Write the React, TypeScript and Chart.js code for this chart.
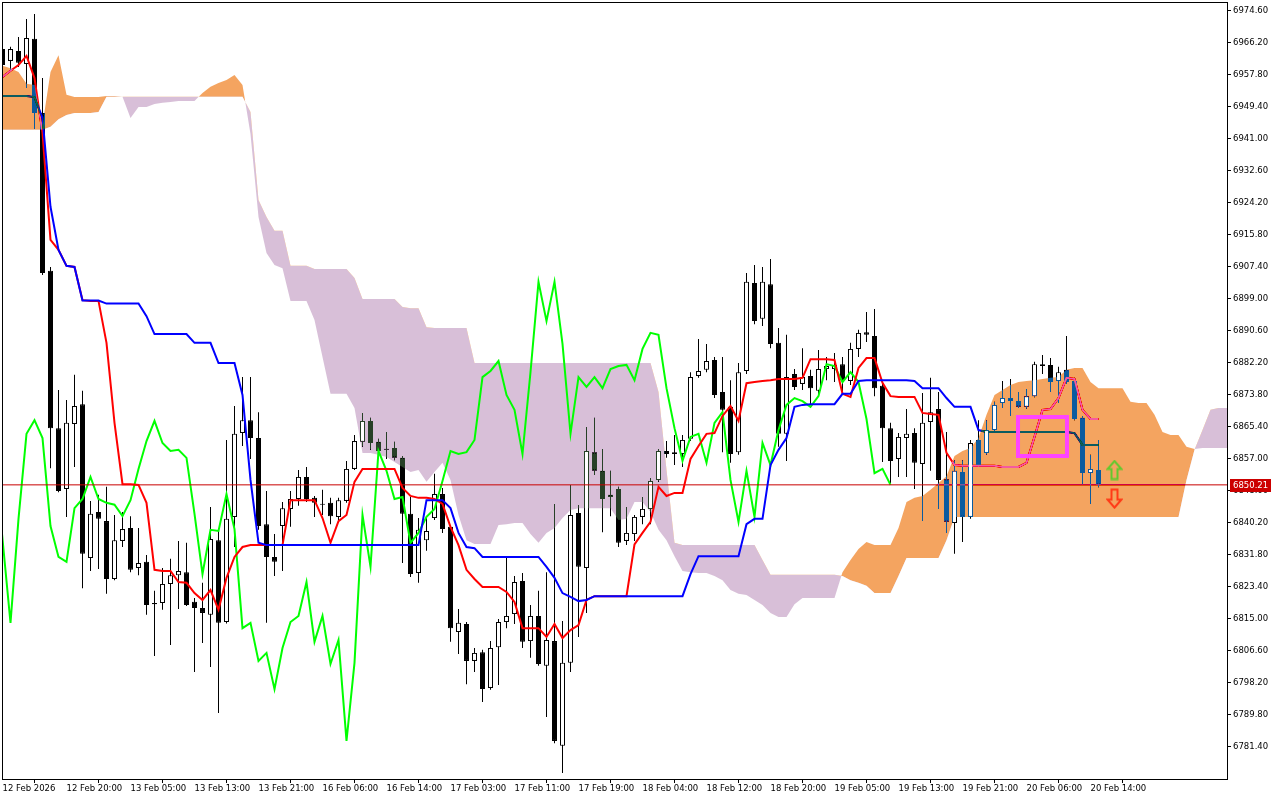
import React, { useEffect, useRef } from 'react';
import { Chart, registerables } from 'chart.js';

// ---- blend plugin (registered before Filler so it wraps the cloud fills) ----
const blendPlugin = {
  id: 'cloudBlend',
  beforeDatasetDraw(chart: any, args: any) {
    const ds = chart.data.datasets[args.index];
    if (ds && ds.blend) {
      chart.ctx.save();
      chart.ctx.globalCompositeOperation = ds.blend;
    }
  },
  afterDatasetDraw(chart: any, args: any) {
    const ds = chart.data.datasets[args.index];
    if (ds && ds.blend) chart.ctx.restore();
  },
};
Chart.register(blendPlugin as any);
Chart.register(...registerables);

// ---------------- data (H1 candles, index = bar number) ----------------
const OPEN = [
  6964.6, 6961.5, 6964.1, 6960.7, 6967.3, 6947.8, 6906.4, 6865.1, 6849.1, 6866.2,
  6871.4, 6831.0, 6843.1, 6840.7, 6825.5, 6835.5, 6838.9, 6828.4, 6830.0, 6819.2,
  6819.2, 6824.2, 6826.5, 6827.3, 6819.5, 6817.9, 6816.1, 6835.7, 6814.2, 6841.8,
  6863.8, 6867.2, 6862.5, 6839.9, 6831.3, 6839.4, 6843.9, 6846.5, 6852.3, 6846.8,
  6845.2, 6845.5, 6841.8, 6846.0, 6854.4, 6861.5, 6867.0, 6861.5, 6859.6, 6859.9,
  6857.3, 6842.6, 6827.1, 6835.7, 6841.5, 6847.8, 6839.2, 6811.6, 6813.7, 6804.0,
  6806.3, 6796.9, 6807.6, 6814.2, 6816.3, 6825.0, 6809.2, 6815.8, 6802.7, 6809.2,
  6781.7, 6803.5, 6842.8, 6828.4, 6858.8, 6853.9, 6847.6, 6849.1, 6835.5, 6837.3,
  6841.8, 6843.9, 6851.5, 6859.1, 6858.3, 6858.3, 6862.3, 6878.8, 6880.4, 6883.0,
  6874.6, 6870.7, 6858.8, 6880.1, 6903.2, 6893.8, 6902.9, 6887.5, 6863.6, 6879.3,
  6876.7, 6878.8, 6874.9, 6880.6, 6880.6, 6881.9, 6877.5, 6885.9, 6890.3, 6889.3,
  6876.2, 6865.1, 6857.0, 6862.5, 6863.8, 6855.7, 6866.7, 6870.1, 6851.7, 6840.2,
  6853.6, 6841.8, 6862.0, 6858.6, 6864.6, 6871.7, 6873.0, 6872.2, 6870.7, 6873.5,
  6881.9, 6881.7, 6877.5, 6880.4, 6877.5, 6867.8, 6853.3, 6854.1,
];
const HIGH = [
  6965.2, 6965.2, 6967.8, 6972.5, 6973.8, 6957.0, 6907.4, 6875.1, 6872.5, 6879.1,
  6874.9, 6846.0, 6847.6, 6849.7, 6842.3, 6843.1, 6842.0, 6838.9, 6831.8, 6822.4,
  6828.4, 6830.8, 6835.5, 6835.0, 6820.5, 6824.5, 6844.4, 6838.9, 6862.0, 6870.9,
  6878.5, 6878.5, 6869.3, 6848.6, 6837.3, 6845.7, 6848.6, 6854.1, 6854.9, 6847.3,
  6848.9, 6846.8, 6846.8, 6856.5, 6863.3, 6869.1, 6867.8, 6862.3, 6864.1, 6861.5,
  6857.8, 6847.0, 6841.5, 6842.0, 6853.1, 6849.4, 6839.7, 6817.6, 6814.2, 6807.4,
  6806.9, 6809.2, 6815.0, 6831.0, 6826.3, 6827.1, 6818.7, 6822.4, 6827.3, 6845.2,
  6814.5, 6850.2, 6844.9, 6865.4, 6867.8, 6859.6, 6853.9, 6849.7, 6844.4, 6842.3,
  6847.0, 6852.0, 6859.6, 6861.7, 6863.3, 6863.3, 6879.8, 6888.5, 6887.2, 6883.8,
  6883.8, 6877.7, 6882.2, 6905.8, 6907.9, 6907.4, 6909.5, 6891.4, 6889.6, 6880.6,
  6886.1, 6880.4, 6885.6, 6883.8, 6884.8, 6883.8, 6887.5, 6890.9, 6895.6, 6896.4,
  6877.2, 6866.5, 6863.8, 6870.1, 6865.1, 6874.3, 6878.3, 6874.6, 6864.1, 6856.7,
  6856.7, 6862.0, 6867.2, 6867.2, 6872.0, 6877.5, 6878.0, 6874.6, 6875.4, 6882.5,
  6884.3, 6883.5, 6881.2, 6889.3, 6878.3, 6868.3, 6858.1, 6862.0,
];
const LOW = [
  6959.6, 6959.1, 6959.9, 6954.4, 6943.6, 6905.3, 6854.6, 6848.3, 6841.8, 6854.9,
  6823.1, 6827.6, 6828.1, 6821.6, 6825.2, 6833.9, 6827.3, 6826.5, 6816.1, 6805.3,
  6817.4, 6808.2, 6817.6, 6818.4, 6801.1, 6808.7, 6802.4, 6790.3, 6813.8, 6833.9,
  6860.4, 6857.0, 6838.4, 6814.0, 6826.3, 6827.6, 6839.2, 6844.7, 6845.7, 6841.8,
  6842.3, 6839.9, 6841.0, 6845.5, 6854.1, 6860.2, 6859.4, 6858.6, 6857.0, 6856.7,
  6829.7, 6826.0, 6824.5, 6832.9, 6841.0, 6837.6, 6809.0, 6805.8, 6797.9, 6801.1,
  6793.2, 6796.4, 6797.7, 6812.6, 6813.7, 6807.4, 6804.8, 6802.7, 6789.3, 6782.4,
  6774.6, 6801.1, 6810.3, 6816.6, 6852.8, 6837.8, 6842.0, 6833.9, 6834.4, 6835.5,
  6839.9, 6839.9, 6851.0, 6857.3, 6855.4, 6854.9, 6861.7, 6878.3, 6879.8, 6873.0,
  6858.8, 6856.0, 6858.1, 6879.3, 6892.4, 6891.9, 6886.1, 6860.2, 6856.5, 6875.1,
  6875.1, 6871.2, 6873.8, 6877.7, 6877.2, 6874.6, 6876.4, 6883.8, 6887.7, 6873.5,
  6856.2, 6850.7, 6852.3, 6852.3, 6849.1, 6840.7, 6853.9, 6843.9, 6837.6, 6832.1,
  6835.2, 6841.3, 6854.9, 6858.1, 6864.1, 6870.4, 6868.3, 6870.4, 6870.2, 6873.2,
  6879.3, 6874.6, 6871.7, 6876.7, 6867.2, 6850.4, 6845.2, 6849.6,
];
const CLOSE = [
  6960.4, 6964.6, 6961.0, 6967.5, 6947.8, 6905.8, 6865.1, 6848.6, 6866.5, 6870.9,
  6832.1, 6842.6, 6841.3, 6825.5, 6835.7, 6838.6, 6827.9, 6829.7, 6818.7, 6818.9,
  6824.2, 6826.5, 6827.6, 6818.7, 6817.9, 6816.6, 6836.0, 6814.0, 6841.3, 6863.6,
  6867.2, 6862.5, 6839.4, 6831.3, 6830.0, 6844.1, 6846.5, 6852.3, 6846.5, 6845.5,
  6845.0, 6842.0, 6846.2, 6854.4, 6861.7, 6867.0, 6861.2, 6859.1, 6859.4, 6857.3,
  6842.6, 6826.8, 6838.4, 6838.1, 6847.8, 6838.6, 6812.6, 6814.0, 6804.0, 6806.1,
  6796.6, 6807.4, 6814.2, 6815.8, 6824.7, 6809.0, 6815.8, 6803.2, 6809.5, 6783.0,
  6803.5, 6842.3, 6828.7, 6859.1, 6853.9, 6846.5, 6847.0, 6835.0, 6837.6, 6841.8,
  6843.9, 6851.2, 6859.1, 6858.3, 6858.8, 6862.0, 6878.5, 6880.1, 6882.7, 6873.8,
  6869.9, 6858.3, 6879.8, 6903.5, 6893.2, 6903.5, 6887.2, 6863.6, 6878.5, 6875.9,
  6878.5, 6875.6, 6880.6, 6881.4, 6881.7, 6877.7, 6885.9, 6890.1, 6889.6, 6875.6,
  6865.1, 6856.5, 6862.8, 6863.6, 6856.0, 6866.5, 6869.3, 6851.5, 6840.5, 6853.9,
  6841.8, 6861.2, 6855.4, 6864.6, 6871.2, 6873.0, 6872.2, 6870.7, 6873.5, 6881.9,
  6881.4, 6877.2, 6879.8, 6877.2, 6867.5, 6853.3, 6854.4, 6850.21,
];
const TENKAN = [
  6957.3, 6958.9, 6960.4, 6962.8, 6957.0, 6942.6, 6914.5, 6911.9, 6907.7, 6907.4,
  6898.7, 6898.5, 6898.5, 6887.5, 6866.5, 6850.4, 6850.4, 6850.2, 6845.5, 6827.9,
  6827.6, 6827.6, 6824.7, 6824.5, 6821.8, 6820.0, 6822.6, 6817.4, 6825.8, 6831.3,
  6833.9, 6834.4, 6834.4, 6834.4, 6834.4, 6834.4, 6846.2, 6846.2, 6846.2, 6846.2,
  6841.5, 6835.0, 6840.7, 6842.3, 6851.0, 6854.4, 6854.4, 6854.4, 6854.4, 6854.4,
  6849.4, 6847.3, 6846.8, 6846.8, 6846.5, 6845.2, 6839.2, 6834.4, 6827.9, 6825.5,
  6823.4, 6823.4, 6823.4, 6822.1, 6819.5, 6812.6, 6812.6, 6812.6, 6810.3, 6813.7,
  6810.0, 6812.1, 6813.4, 6820.0, 6821.0, 6821.0, 6821.0, 6821.0, 6821.0, 6834.6,
  6837.6, 6840.5, 6849.7, 6847.3, 6848.1, 6848.1, 6857.0, 6860.4, 6863.6, 6863.8,
  6868.3, 6870.9, 6867.0, 6876.9, 6877.2, 6877.5, 6877.7, 6878.0, 6878.0, 6878.0,
  6878.3, 6883.2, 6883.2, 6883.2, 6883.0, 6874.1, 6873.3, 6880.9, 6883.5, 6883.5,
  6877.0, 6873.5, 6873.3, 6873.3, 6873.3, 6869.1, 6868.8, 6868.6, 6858.6, 6855.4,
  6855.2, 6855.2, 6855.2, 6855.2, 6855.2, 6854.9, 6854.9, 6854.9, 6856.0, 6862.8,
  6869.9, 6870.1, 6873.0, 6878.3, 6878.0, 6869.9, 6867.5, 6867.5,
];
const KIJUN = [
  6952.3, 6952.3, 6952.3, 6952.3, 6952.0, 6946.5, 6923.2, 6911.9, 6907.7, 6907.4,
  6898.6, 6898.6, 6898.6, 6897.8, 6897.8, 6897.8, 6897.8, 6897.8, 6894.5, 6889.8,
  6889.8, 6889.8, 6889.8, 6889.8, 6887.5, 6887.5, 6887.5, 6882.2, 6882.2, 6882.2,
  6873.8, 6851.5, 6835.0, 6834.4, 6834.4, 6834.4, 6834.4, 6834.4, 6834.4, 6834.4,
  6834.4, 6834.4, 6834.4, 6834.4, 6834.4, 6834.4, 6834.4, 6834.4, 6834.4, 6834.4,
  6834.4, 6834.4, 6834.4, 6846.2, 6846.2, 6846.2, 6844.1, 6837.6, 6833.9, 6833.6,
  6831.3, 6831.3, 6831.3, 6831.3, 6831.3, 6831.3, 6831.3, 6831.3, 6828.7, 6825.8,
  6821.8, 6820.8, 6819.7, 6820.0, 6821.0, 6821.0, 6821.0, 6821.0, 6821.0, 6821.0,
  6821.0, 6821.0, 6821.0, 6821.0, 6821.0, 6821.0, 6826.8, 6831.5, 6831.5, 6831.5,
  6831.5, 6831.5, 6831.5, 6839.9, 6841.3, 6841.3, 6855.4, 6859.4, 6862.5, 6870.7,
  6871.2, 6871.4, 6871.4, 6871.4, 6871.4, 6874.1, 6874.1, 6877.5, 6877.7, 6877.7,
  6877.7, 6877.7, 6877.7, 6877.7, 6877.5, 6875.6, 6875.6, 6875.6, 6873.0, 6870.7,
  6870.7, 6870.7, 6864.6, 6864.1, 6864.1, 6864.1, 6864.1, 6864.1, 6864.1, 6864.1,
  6864.1, 6864.1, 6864.1, 6864.1, 6863.8, 6860.7, 6860.7, 6860.7,
];
// cloud spans (already shifted forward, so it runs past the last candle)
const SENKOU_A = [
  6960.2, 6959.6, 6958.6, 6955.5, 6955.2, 6944.7, 6958.6, 6963.0, 6952.6, 6952.0,
  6952.0, 6952.0, 6952.0, 6952.3, 6952.3, 6952.1, 6946.5, 6949.4, 6949.4, 6950.2,
  6950.5, 6950.7, 6951.0, 6951.0, 6951.0, 6953.1, 6954.7, 6955.7, 6956.5, 6957.8,
  6955.2, 6942.3, 6920.5, 6911.1, 6907.9, 6907.1, 6898.5, 6898.5, 6898.5, 6893.5,
  6883.8, 6874.1, 6874.1, 6874.1, 6870.4, 6858.6, 6858.6, 6858.1, 6857.5, 6856.2,
  6854.9, 6853.6, 6854.1, 6851.0, 6853.6, 6856.0, 6851.5, 6842.3, 6835.7, 6834.7,
  6834.7, 6834.7, 6839.7, 6839.9, 6840.2, 6840.2, 6837.3, 6835.0, 6837.6, 6838.9,
  6841.5, 6843.6, 6844.1, 6844.1, 6844.1, 6844.1, 6844.1, 6841.0, 6841.3, 6845.7,
  6845.7, 6843.1, 6838.4, 6835.7, 6831.5, 6827.6, 6827.3, 6827.1, 6827.1, 6826.3,
  6825.2, 6822.6, 6821.6, 6821.3, 6820.0, 6818.7, 6816.6, 6815.5, 6815.5, 6818.9,
  6820.5, 6820.5, 6820.5, 6820.5, 6820.5, 6827.3, 6830.5, 6833.4, 6835.2, 6834.4,
  6834.4, 6834.4, 6838.9, 6845.7, 6846.8, 6847.3, 6848.9, 6850.7, 6852.5, 6857.8,
  6859.1, 6859.9, 6862.5, 6868.6, 6873.8, 6875.1, 6876.4, 6877.2, 6877.5, 6877.7,
  6878.0, 6878.3, 6878.5, 6880.4, 6880.9, 6880.9, 6877.2, 6875.6, 6875.6, 6875.6,
  6875.6, 6872.0, 6871.7, 6871.7, 6868.6, 6864.1, 6863.3, 6863.3, 6860.2, 6859.6,
  6859.9, 6859.9, 6859.9, 6859.9, 6859.9,
];
const SENKOU_B = [
  6943.4, 6943.4, 6943.4, 6943.4, 6943.4, 6943.4, 6944.2, 6946.2, 6947.3, 6947.8,
  6947.8, 6947.8, 6948.1, 6952.1, 6952.1, 6952.1, 6952.1, 6952.1, 6952.1, 6952.1,
  6952.1, 6952.1, 6952.1, 6952.1, 6952.1, 6952.1, 6952.1, 6952.1, 6952.1, 6952.1,
  6952.1, 6948.1, 6925.0, 6920.5, 6916.9, 6916.9, 6907.7, 6907.7, 6907.7, 6906.9,
  6906.9, 6906.9, 6906.9, 6906.9, 6904.5, 6899.0, 6899.0, 6899.0, 6899.0, 6899.0,
  6896.9, 6896.6, 6896.6, 6891.6, 6891.4, 6891.4, 6891.4, 6891.4, 6891.4, 6882.2,
  6882.2, 6882.2, 6882.2, 6882.2, 6882.2, 6882.2, 6882.2, 6882.2, 6882.2, 6882.2,
  6882.2, 6882.2, 6882.2, 6882.2, 6882.2, 6882.2, 6882.2, 6882.2, 6882.2, 6882.2,
  6882.2, 6882.2, 6874.6, 6854.1, 6835.0, 6834.4, 6834.4, 6834.4, 6834.4, 6834.4,
  6834.4, 6834.4, 6834.4, 6834.4, 6834.4, 6830.5, 6826.6, 6826.6, 6826.6, 6826.6,
  6826.6, 6826.6, 6826.6, 6826.6, 6826.6, 6826.3, 6825.2, 6824.5, 6823.7, 6821.8,
  6821.8, 6821.8, 6826.3, 6831.0, 6831.0, 6831.0, 6831.0, 6831.0, 6835.7, 6841.8,
  6841.8, 6841.8, 6841.8, 6841.8, 6841.8, 6841.8, 6841.8, 6841.8, 6841.8, 6841.8,
  6841.8, 6841.8, 6841.8, 6841.8, 6841.8, 6841.8, 6841.8, 6841.8, 6841.8, 6841.8,
  6841.8, 6841.8, 6841.8, 6841.8, 6841.8, 6841.8, 6841.8, 6841.8, 6851.5, 6859.4,
  6864.6, 6869.9, 6870.4, 6870.4, 6870.4,
];
const CHIKOU_SHIFT = 26; // lagging span = close plotted 26 bars back

const X_TICKS = [0, 8, 16, 24, 32, 40, 48, 56, 64, 72, 80, 88, 96, 104, 112, 120, 128, 136];
const X_LABELS = [
  '12 Feb 2026', '12 Feb 20:00', '13 Feb 05:00', '13 Feb 13:00', '13 Feb 21:00',
  '16 Feb 06:00', '16 Feb 14:00', '17 Feb 03:00', '17 Feb 11:00', '17 Feb 19:00',
  '18 Feb 04:00', '18 Feb 12:00', '18 Feb 20:00', '19 Feb 05:00', '19 Feb 13:00',
  '19 Feb 21:00', '20 Feb 06:00', '20 Feb 14:00',
];
const Y_TICKS = [
  6974.6, 6966.2, 6957.8, 6949.4, 6941.0, 6932.6, 6924.2, 6915.8, 6907.4, 6899.0,
  6890.6, 6882.2, 6873.8, 6865.4, 6857.0, 6848.6, 6840.2, 6831.8, 6823.4, 6815.0,
  6806.6, 6798.2, 6789.8, 6781.4,
];
const LAST_PRICE = 6850.21;
const RECT_X = [126.94, 133.06];
const RECT_Y = [6857.8, 6868.0];
const ARROW_X = 139;
const ARROW_UP_Y = 6854.1;
const ARROW_DOWN_Y = 6846.6;

const X_MIN = -0.0625;
const X_MAX = 153.0625;
const Y_MIN = 6773.0;
const Y_MAX = 6976.96;

const FONT = { family: 'DejaVu Sans', size: 8.5 };
// colours used with 'difference' blending: white -> SandyBrown / Thistle
const ORANGE_DIFF = '#0B5B9F';
const LILAC_DIFF = '#274027';
const CLEAR = 'rgba(0,0,0,0)';

function makeArrow(up: boolean, color: string) {
  const c = document.createElement('canvas');
  c.width = 17;
  c.height = 21;
  const g = c.getContext('2d') as CanvasRenderingContext2D;
  const pts = [
    [8.5, 1.5], [15.5, 9.5], [11.5, 9.5], [11.5, 19.5], [5.5, 19.5], [5.5, 9.5], [1.5, 9.5],
  ];
  g.beginPath();
  pts.forEach(([x, y], i) => {
    const yy = up ? y : 21 - y;
    if (i === 0) g.moveTo(x, yy);
    else g.lineTo(x, yy);
  });
  g.closePath();
  g.lineJoin = 'miter';
  g.lineWidth = 2;
  g.strokeStyle = color;
  g.stroke();
  return c;
}

function bullBodiesIn(kind: 'orange' | 'lilac') {
  const out: any[] = [];
  for (let i = 0; i < OPEN.length; i++) {
    if (CLOSE[i] < OPEN[i]) continue;
    const a = SENKOU_A[i];
    const b = SENKOU_B[i];
    const ok = kind === 'orange' ? a > b : a < b;
    if (!ok) continue;
    const lo = Math.min(a, b);
    const hi = Math.max(a, b);
    if (CLOSE[i] > lo && OPEN[i] < hi) out.push({ x: i, y: [OPEN[i], CLOSE[i]] });
  }
  return out;
}

export default function App() {
  const ref = useRef<HTMLCanvasElement | null>(null);

  useEffect(() => {
    if (!ref.current) return;
    const idx = OPEN.map((_, i) => i);
    const upArrow = makeArrow(true, '#63C92E');
    const downArrow = makeArrow(false, '#FF3A17');

    const bgPlugin = {
      id: 'bgWhite',
      beforeDraw(chart: any) {
        const ctx = chart.ctx;
        ctx.save();
        ctx.fillStyle = '#ffffff';
        ctx.fillRect(0, 0, chart.width, chart.height);
        ctx.restore();
      },
    };
    const overlayPlugin = {
      id: 'overlay',
      afterDraw(chart: any) {
        const ctx = chart.ctx;
        const a = chart.chartArea;
        ctx.save();
        ctx.strokeStyle = '#000';
        ctx.lineWidth = 1;
        ctx.strokeRect(a.left + 0.5, a.top + 0.5, a.right - a.left, a.bottom - a.top);
        const y = Math.round(chart.scales.y.getPixelForValue(LAST_PRICE));
        ctx.fillStyle = '#CC0000';
        ctx.fillRect(a.right + 3, y - 6, 41, 13);
        ctx.fillStyle = '#fff';
        ctx.font = `${FONT.size}px "${FONT.family}"`;
        ctx.textBaseline = 'middle';
        ctx.textAlign = 'left';
        ctx.fillText(LAST_PRICE.toFixed(2), a.right + 6, y + 0.5);
        ctx.restore();
      },
    };

    const chart = new Chart(ref.current, {
      type: 'line',
      data: {
        datasets: [
          // 0 wicks
          {
            type: 'bar',
            data: idx.map((i) => ({ x: i, y: [LOW[i], HIGH[i]] })),
            backgroundColor: '#000',
            borderWidth: 0,
            barThickness: 1,
            grouped: false,
            inflateAmount: 0,
            order: 100,
          },
          // 1 bodies
          {
            type: 'bar',
            data: idx.map((i) => ({ x: i, y: [OPEN[i], CLOSE[i]] })),
            backgroundColor: idx.map((i) => (CLOSE[i] >= OPEN[i] ? '#ffffff' : '#000000')),
            borderColor: '#000',
            borderWidth: 1,
            borderSkipped: false,
            barThickness: 5,
            minBarLength: 1,
            grouped: false,
            inflateAmount: 0,
            order: 99,
          },
          // 2 senkou A (thistle part)
          {
            type: 'line',
            data: SENKOU_A.map((v, i) => ({ x: i, y: v })),
            borderWidth: 0,
            borderColor: CLEAR,
            pointRadius: 0,
            fill: { target: 3, above: CLEAR, below: LILAC_DIFF },
            blend: 'difference',
            order: 90,
          },
          // 3 senkou B
          {
            type: 'line',
            data: SENKOU_B.map((v, i) => ({ x: i, y: v })),
            borderWidth: 0,
            borderColor: CLEAR,
            pointRadius: 0,
            fill: false,
            order: 89,
          },
          // 4 bull body interiors inside thistle cloud
          {
            type: 'bar',
            data: bullBodiesIn('lilac'),
            backgroundColor: '#ffffff',
            borderColor: CLEAR,
            borderWidth: 1,
            borderSkipped: false,
            barThickness: 5,
            grouped: false,
            inflateAmount: 0,
            order: 85,
          },
          // 5 chikou span
          {
            type: 'line',
            data: CLOSE.map((c, i) => ({ x: i - CHIKOU_SHIFT, y: c })),
            borderColor: '#00FF00',
            borderWidth: 2,
            pointRadius: 0,
            fill: false,
            order: 80,
          },
          // 6 last price line
          {
            type: 'line',
            data: [{ x: -2, y: LAST_PRICE }, { x: 160, y: LAST_PRICE }],
            borderColor: '#C80000',
            borderWidth: 1,
            pointRadius: 0,
            fill: false,
            order: 79,
          },
          // 7 tenkan
          {
            type: 'line',
            data: TENKAN.map((v, i) => ({ x: i, y: v })),
            borderColor: '#FF0000',
            borderWidth: 2,
            pointRadius: 0,
            fill: false,
            order: 78,
          },
          // 8 kijun
          {
            type: 'line',
            data: KIJUN.map((v, i) => ({ x: i, y: v })),
            borderColor: '#0000FF',
            borderWidth: 2,
            pointRadius: 0,
            fill: false,
            order: 77,
          },
          // 9 senkou A (sandy brown part)
          {
            type: 'line',
            data: SENKOU_A.map((v, i) => ({ x: i, y: v })),
            borderWidth: 0,
            borderColor: CLEAR,
            pointRadius: 0,
            fill: { target: 3, above: ORANGE_DIFF, below: CLEAR },
            blend: 'difference',
            order: 70,
          },
          // 10 bull body interiors inside sandy cloud
          {
            type: 'bar',
            data: bullBodiesIn('orange'),
            backgroundColor: '#ffffff',
            borderColor: CLEAR,
            borderWidth: 1,
            borderSkipped: false,
            barThickness: 5,
            grouped: false,
            inflateAmount: 0,
            order: 65,
          },
          // 11 rectangle object
          {
            type: 'line',
            data: [
              { x: RECT_X[0], y: RECT_Y[0] },
              { x: RECT_X[1], y: RECT_Y[0] },
              { x: RECT_X[1], y: RECT_Y[1] },
              { x: RECT_X[0], y: RECT_Y[1] },
              { x: RECT_X[0], y: RECT_Y[0] },
            ],
            borderColor: '#FF44FF',
            borderWidth: 4,
            borderJoinStyle: 'miter',
            borderCapStyle: 'square',
            pointRadius: 0,
            fill: false,
            order: 50,
          },
          // 12 arrows
          {
            type: 'line',
            data: [{ x: ARROW_X, y: ARROW_UP_Y }, { x: ARROW_X, y: ARROW_DOWN_Y }],
            showLine: false,
            pointStyle: [upArrow, downArrow],
            pointRadius: 5,
            pointHoverRadius: 0,
            pointBorderWidth: 0,
            fill: false,
            order: 40,
          },
        ] as any,
      },
      options: {
        responsive: false,
        animation: false,
        devicePixelRatio: 1,
        events: [],
        layout: { autoPadding: false, padding: { left: 2, top: 2, right: 0, bottom: 0 } },
        elements: { point: { radius: 0 }, line: { tension: 0 } },
        plugins: {
          legend: { display: false },
          tooltip: { enabled: false },
          title: { display: false },
          colors: { enabled: false },
        } as any,
        scales: {
          x: {
            type: 'linear',
            min: X_MIN,
            max: X_MAX,
            bounds: 'data',
            offset: false,
            afterFit: (s: any) => {
              s.height = 21;
              s.paddingLeft = 0;
              s.paddingRight = 0;
            },
            afterBuildTicks: (s: any) => {
              s.ticks = X_TICKS.map((v) => ({ value: v }));
            },
            ticks: {
              autoSkip: false,
              maxRotation: 0,
              minRotation: 0,
              align: 'start',
              padding: 1,
              color: '#000',
              font: FONT,
              callback: (_v: any, i: number) => X_LABELS[i],
            },
            grid: { drawOnChartArea: false, drawTicks: true, tickLength: 4, color: '#000' },
            border: { display: true, color: '#000' },
          },
          y: {
            type: 'linear',
            position: 'right',
            min: Y_MIN,
            max: Y_MAX,
            bounds: 'data',
            afterFit: (s: any) => {
              s.width = 53;
              s.paddingTop = 0;
              s.paddingBottom = 0;
            },
            afterBuildTicks: (s: any) => {
              s.ticks = Y_TICKS.map((v) => ({ value: v }));
            },
            ticks: {
              autoSkip: false,
              padding: 2,
              color: '#000',
              font: FONT,
              callback: (v: any) => Number(v).toFixed(2),
            },
            grid: { drawOnChartArea: false, drawTicks: true, tickLength: 4, color: '#000' },
            border: { display: true, color: '#000' },
          },
        } as any,
      },
      plugins: [bgPlugin, overlayPlugin],
    } as any);

    return () => chart.destroy();
  }, []);

  return (
    <div style={{ position: 'fixed', left: 0, top: 0, width: 1280, height: 800, background: '#fff' }}>
      <canvas ref={ref} width={1280} height={800} style={{ display: 'block', width: 1280, height: 800 }} />
    </div>
  );
}
